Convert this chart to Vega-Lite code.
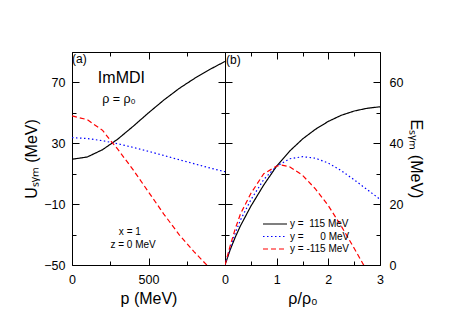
{
  "$schema": "https://vega.github.io/schema/vega-lite/v6.json",
  "padding": {"left": 23, "top": 45, "right": 0, "bottom": 0},
  "bounds": "flush",
  "spacing": 0,
  "config": {
    "font": "Liberation Sans",
    "view": {"stroke": "black", "strokeWidth": 1},
    "axis": {
      "domain": false, "grid": false, "tickColor": "black", "tickWidth": 1,
      "labelColor": "black", "labelFontSize": 12.5, "labelFont": "Liberation Sans",
      "titleFont": "Liberation Sans", "titleFontSize": 16, "titleFontWeight": "normal",
      "titleColor": "black", "labelFlush": false, "labelOverlap": false
    }
  },
  "datasets": {
    "left": [
      {"series": "y =\u00a0\u00a0115 MeV", "p": 0, "U": 19.5},
      {"series": "y =\u00a0\u00a0115 MeV", "p": 100, "U": 21},
      {"series": "y =\u00a0\u00a0115 MeV", "p": 200, "U": 25.8},
      {"series": "y =\u00a0\u00a0115 MeV", "p": 300, "U": 32.8},
      {"series": "y =\u00a0\u00a0115 MeV", "p": 400, "U": 41.2},
      {"series": "y =\u00a0\u00a0115 MeV", "p": 500, "U": 50},
      {"series": "y =\u00a0\u00a0115 MeV", "p": 600, "U": 58.4},
      {"series": "y =\u00a0\u00a0115 MeV", "p": 700, "U": 66},
      {"series": "y =\u00a0\u00a0115 MeV", "p": 800, "U": 72.6},
      {"series": "y =\u00a0\u00a0115 MeV", "p": 900, "U": 78.5},
      {"series": "y =\u00a0\u00a0115 MeV", "p": 1000, "U": 83.8},
      {"series": "y =\u00a0\u00a0\u00a0\u00a0\u00a0\u00a00 MeV", "p": 0, "U": 33.7},
      {"series": "y =\u00a0\u00a0\u00a0\u00a0\u00a0\u00a00 MeV", "p": 100, "U": 33.1},
      {"series": "y =\u00a0\u00a0\u00a0\u00a0\u00a0\u00a00 MeV", "p": 200, "U": 31.7},
      {"series": "y =\u00a0\u00a0\u00a0\u00a0\u00a0\u00a00 MeV", "p": 300, "U": 29.7},
      {"series": "y =\u00a0\u00a0\u00a0\u00a0\u00a0\u00a00 MeV", "p": 400, "U": 27.3},
      {"series": "y =\u00a0\u00a0\u00a0\u00a0\u00a0\u00a00 MeV", "p": 500, "U": 24.7},
      {"series": "y =\u00a0\u00a0\u00a0\u00a0\u00a0\u00a00 MeV", "p": 600, "U": 22},
      {"series": "y =\u00a0\u00a0\u00a0\u00a0\u00a0\u00a00 MeV", "p": 700, "U": 19.2},
      {"series": "y =\u00a0\u00a0\u00a0\u00a0\u00a0\u00a00 MeV", "p": 800, "U": 16.5},
      {"series": "y =\u00a0\u00a0\u00a0\u00a0\u00a0\u00a00 MeV", "p": 900, "U": 13.8},
      {"series": "y =\u00a0\u00a0\u00a0\u00a0\u00a0\u00a00 MeV", "p": 1000, "U": 11.3},
      {"series": "y = -115 MeV", "p": 0, "U": 48},
      {"series": "y = -115 MeV", "p": 100, "U": 45.5},
      {"series": "y = -115 MeV", "p": 200, "U": 38.5},
      {"series": "y = -115 MeV", "p": 250, "U": 32},
      {"series": "y = -115 MeV", "p": 300, "U": 26},
      {"series": "y = -115 MeV", "p": 400, "U": 12.5},
      {"series": "y = -115 MeV", "p": 500, "U": -2},
      {"series": "y = -115 MeV", "p": 600, "U": -16.5},
      {"series": "y = -115 MeV", "p": 700, "U": -30},
      {"series": "y = -115 MeV", "p": 800, "U": -41.5},
      {"series": "y = -115 MeV", "p": 900, "U": -52},
      {"series": "y = -115 MeV", "p": 1000, "U": -62}
    ],
    "right": [
      {"series": "y =\u00a0\u00a0115 MeV", "rho": 0, "E": 0},
      {"series": "y =\u00a0\u00a0115 MeV", "rho": 0.1, "E": 5},
      {"series": "y =\u00a0\u00a0115 MeV", "rho": 0.2, "E": 9.2},
      {"series": "y =\u00a0\u00a0115 MeV", "rho": 0.3, "E": 12.9},
      {"series": "y =\u00a0\u00a0115 MeV", "rho": 0.5, "E": 19.3},
      {"series": "y =\u00a0\u00a0115 MeV", "rho": 0.75, "E": 26.3},
      {"series": "y =\u00a0\u00a0115 MeV", "rho": 1.0, "E": 32.5},
      {"series": "y =\u00a0\u00a0115 MeV", "rho": 1.25, "E": 37.4},
      {"series": "y =\u00a0\u00a0115 MeV", "rho": 1.5, "E": 41.4},
      {"series": "y =\u00a0\u00a0115 MeV", "rho": 1.75, "E": 44.6},
      {"series": "y =\u00a0\u00a0115 MeV", "rho": 2.0, "E": 47.2},
      {"series": "y =\u00a0\u00a0115 MeV", "rho": 2.25, "E": 49.2},
      {"series": "y =\u00a0\u00a0115 MeV", "rho": 2.5, "E": 50.6},
      {"series": "y =\u00a0\u00a0115 MeV", "rho": 2.75, "E": 51.5},
      {"series": "y =\u00a0\u00a0115 MeV", "rho": 3.0, "E": 52},
      {"series": "y =\u00a0\u00a0\u00a0\u00a0\u00a0\u00a00 MeV", "rho": 0, "E": 0},
      {"series": "y =\u00a0\u00a0\u00a0\u00a0\u00a0\u00a00 MeV", "rho": 0.1, "E": 5.6},
      {"series": "y =\u00a0\u00a0\u00a0\u00a0\u00a0\u00a00 MeV", "rho": 0.2, "E": 10.6},
      {"series": "y =\u00a0\u00a0\u00a0\u00a0\u00a0\u00a00 MeV", "rho": 0.3, "E": 14.8},
      {"series": "y =\u00a0\u00a0\u00a0\u00a0\u00a0\u00a00 MeV", "rho": 0.5, "E": 21.4},
      {"series": "y =\u00a0\u00a0\u00a0\u00a0\u00a0\u00a00 MeV", "rho": 0.75, "E": 28.1},
      {"series": "y =\u00a0\u00a0\u00a0\u00a0\u00a0\u00a00 MeV", "rho": 1.0, "E": 32.5},
      {"series": "y =\u00a0\u00a0\u00a0\u00a0\u00a0\u00a00 MeV", "rho": 1.25, "E": 34.9},
      {"series": "y =\u00a0\u00a0\u00a0\u00a0\u00a0\u00a00 MeV", "rho": 1.5, "E": 35.6},
      {"series": "y =\u00a0\u00a0\u00a0\u00a0\u00a0\u00a00 MeV", "rho": 1.75, "E": 35.1},
      {"series": "y =\u00a0\u00a0\u00a0\u00a0\u00a0\u00a00 MeV", "rho": 2.0, "E": 33.5},
      {"series": "y =\u00a0\u00a0\u00a0\u00a0\u00a0\u00a00 MeV", "rho": 2.25, "E": 31},
      {"series": "y =\u00a0\u00a0\u00a0\u00a0\u00a0\u00a00 MeV", "rho": 2.5, "E": 28},
      {"series": "y =\u00a0\u00a0\u00a0\u00a0\u00a0\u00a00 MeV", "rho": 2.75, "E": 24.8},
      {"series": "y =\u00a0\u00a0\u00a0\u00a0\u00a0\u00a00 MeV", "rho": 3.0, "E": 21.6},
      {"series": "y = -115 MeV", "rho": 0, "E": 0},
      {"series": "y = -115 MeV", "rho": 0.1, "E": 6.3},
      {"series": "y = -115 MeV", "rho": 0.2, "E": 12},
      {"series": "y = -115 MeV", "rho": 0.3, "E": 16.8},
      {"series": "y = -115 MeV", "rho": 0.5, "E": 23.5},
      {"series": "y = -115 MeV", "rho": 0.75, "E": 30},
      {"series": "y = -115 MeV", "rho": 1.0, "E": 32.5},
      {"series": "y = -115 MeV", "rho": 1.1, "E": 32.8},
      {"series": "y = -115 MeV", "rho": 1.25, "E": 32.3},
      {"series": "y = -115 MeV", "rho": 1.5, "E": 29.5},
      {"series": "y = -115 MeV", "rho": 1.75, "E": 25},
      {"series": "y = -115 MeV", "rho": 2.0, "E": 19.5},
      {"series": "y = -115 MeV", "rho": 2.25, "E": 12.8},
      {"series": "y = -115 MeV", "rho": 2.5, "E": 5.5},
      {"series": "y = -115 MeV", "rho": 2.75, "E": -2},
      {"series": "y = -115 MeV", "rho": 3.0, "E": -8.5}
    ]
  },
  "hconcat": [
    {
      "width": 153,
      "height": 213,
      "layer": [
        {
          "data": {"name": "left"},
          "mark": {"type": "line", "clip": true, "strokeWidth": 1.2},
          "encoding": {
            "x": {"field": "p", "type": "quantitative",
              "scale": {"domain": [0, 1000], "nice": false, "zero": false},
              "axis": {"orient": "bottom", "values": [0, 250, 500, 750, 1000], "format": "d",
                "labelExpr": "datum.value == 0 || datum.value == 500 ? datum.label : ''",
                "tickSize": {"condition": {"test": "datum.value % 500 == 0", "value": -7}, "value": -4},
                "labelPadding": 15, "title": "p (MeV)", "titlePadding": 2}},
            "y": {"field": "U", "type": "quantitative",
              "scale": {"domain": [-50, 90], "nice": false, "zero": false},
              "axis": {"orient": "left", "values": [-50, -30, -10, 10, 30, 50, 70, 90], "format": "d",
                "labelExpr": "(datum.value + 50) % 40 == 0 ? datum.label : ''",
                "tickSize": {"condition": {"test": "(datum.value + 50) % 40 == 0", "value": -7}, "value": -4},
                "labelPadding": 14, "title": "U\u209b\u1d67\u2098 (MeV)", "titlePadding": 4}},
            "color": {"field": "series", "type": "nominal",
              "scale": {"domain": ["y =\u00a0\u00a0115 MeV", "y =\u00a0\u00a0\u00a0\u00a0\u00a0\u00a00 MeV", "y = -115 MeV"], "range": ["black", "blue", "red"]},
              "legend": null},
            "strokeDash": {"field": "series", "type": "nominal",
              "scale": {"domain": ["y =\u00a0\u00a0115 MeV", "y =\u00a0\u00a0\u00a0\u00a0\u00a0\u00a00 MeV", "y = -115 MeV"], "range": [[1, 0], [1.5, 2.5], [5, 3]]},
              "legend": null}
          }
        },
        {
          "data": {"values": [{}]},
          "mark": {"type": "text", "align": "left", "baseline": "middle", "fontSize": 12, "color": "black"},
          "encoding": {
            "x": {"datum": 0, "type": "quantitative",
              "axis": {"orient": "top", "values": [0, 250, 500, 750, 1000], "labels": false, "title": null,
                "tickSize": {"condition": {"test": "datum.value % 500 == 0", "value": -7}, "value": -4}}},
            "y": {"datum": 85.2, "type": "quantitative",
              "axis": {"orient": "right", "values": [-50, -30, -10, 10, 30, 50, 70, 90], "labels": false, "title": null,
                "tickSize": {"condition": {"test": "(datum.value + 50) % 40 == 0", "value": -7}, "value": -4}}},
            "text": {"value": "(a)"}
          }
        },
        {
          "data": {"values": [{}]},
          "mark": {"type": "text", "align": "center", "baseline": "middle", "fontSize": 16, "color": "black"},
          "encoding": {
            "x": {"datum": 323, "type": "quantitative", "axis": null},
            "y": {"datum": 73, "type": "quantitative", "axis": null},
            "text": {"value": "ImMDI"}
          }
        },
        {
          "data": {"values": [{}]},
          "mark": {"type": "text", "align": "center", "baseline": "middle", "fontSize": 12.5, "color": "black"},
          "encoding": {
            "x": {"datum": 307, "type": "quantitative", "axis": null},
            "y": {"datum": 59, "type": "quantitative", "axis": null},
            "text": {"value": "\u03c1 = \u03c1\u2080"}
          }
        },
        {
          "data": {"values": [{}]},
          "mark": {"type": "text", "align": "center", "baseline": "middle", "fontSize": 10, "color": "black"},
          "encoding": {
            "x": {"datum": 378, "type": "quantitative", "axis": null},
            "y": {"datum": -28.3, "type": "quantitative", "axis": null},
            "text": {"value": "x = 1"}
          }
        },
        {
          "data": {"values": [{}]},
          "mark": {"type": "text", "align": "center", "baseline": "middle", "fontSize": 10, "color": "black"},
          "encoding": {
            "x": {"datum": 399, "type": "quantitative", "axis": null},
            "y": {"datum": -36.8, "type": "quantitative", "axis": null},
            "text": {"value": "z = 0 MeV"}
          }
        }
      ],
      "resolve": {"axis": {"x": "independent", "y": "independent"}}
    },
    {
      "width": 155,
      "height": 213,
      "layer": [
        {
          "data": {"name": "right"},
          "mark": {"type": "line", "clip": true, "strokeWidth": 1.2},
          "encoding": {
            "x": {"field": "rho", "type": "quantitative",
              "scale": {"domain": [0, 3], "nice": false, "zero": false},
              "axis": {"orient": "bottom", "values": [0, 0.5, 1, 1.5, 2, 2.5, 3],
                "labelExpr": "datum.value % 1 == 0 ? format(datum.value, 'd') : ''",
                "tickSize": {"condition": {"test": "datum.value % 1 == 0", "value": -7}, "value": -4},
                "labelPadding": 15, "title": "\u03c1/\u03c1\u2080", "titlePadding": 2}},
            "y": {"field": "E", "type": "quantitative",
              "scale": {"domain": [0, 70], "nice": false, "zero": false},
              "axis": {"orient": "right", "values": [0, 10, 20, 30, 40, 50, 60, 70], "format": "d",
                "labelExpr": "datum.value % 20 == 0 ? datum.label : ''",
                "tickSize": {"condition": {"test": "datum.value % 20 == 0", "value": -7}, "value": -4},
                "labelPadding": 16, "title": "E\u209b\u1d67\u2098 (MeV)", "titlePadding": 5}},
            "color": {"field": "series", "type": "nominal",
              "scale": {"domain": ["y =\u00a0\u00a0115 MeV", "y =\u00a0\u00a0\u00a0\u00a0\u00a0\u00a00 MeV", "y = -115 MeV"], "range": ["black", "blue", "red"]},
              "legend": {"orient": "none", "legendX": 43, "legendY": 165, "title": null,
                "symbolType": "M-2,0H2", "symbolSize": 144, "symbolStrokeWidth": 1.2,
                "labelFontSize": 10, "labelOffset": 8, "rowPadding": 0.5, "padding": 0,
                "labelFont": "Liberation Sans", "labelColor": "black"}},
            "strokeDash": {"field": "series", "type": "nominal",
              "scale": {"domain": ["y =\u00a0\u00a0115 MeV", "y =\u00a0\u00a0\u00a0\u00a0\u00a0\u00a00 MeV", "y = -115 MeV"], "range": [[1, 0], [1.5, 2.5], [5, 3]]},
              "legend": {"orient": "none", "legendX": 43, "legendY": 165, "title": null,
                "symbolType": "M-2,0H2", "symbolSize": 144, "symbolStrokeWidth": 1.2,
                "labelFontSize": 10, "labelOffset": 8, "rowPadding": 0.5, "padding": 0,
                "labelFont": "Liberation Sans", "labelColor": "black"}}
          }
        },
        {
          "data": {"values": [{}]},
          "mark": {"type": "text", "align": "left", "baseline": "middle", "fontSize": 12, "color": "black", "dx": 1},
          "encoding": {
            "x": {"datum": 0, "type": "quantitative",
              "axis": {"orient": "top", "values": [0, 0.5, 1, 1.5, 2, 2.5, 3], "labels": false, "title": null,
                "tickSize": {"condition": {"test": "datum.value % 1 == 0", "value": -7}, "value": -4}}},
            "y": {"datum": 67.3, "type": "quantitative",
              "axis": {"orient": "left", "values": [0, 10, 20, 30, 40, 50, 60, 70], "labels": false, "title": null,
                "tickSize": {"condition": {"test": "datum.value % 20 == 0", "value": -7}, "value": -4}}},
            "text": {"value": "(b)"}
          }
        }
      ],
      "resolve": {"axis": {"x": "independent", "y": "independent"}}
    }
  ],
  "resolve": {
    "scale": {"color": "independent", "strokeDash": "independent"},
    "legend": {"color": "independent", "strokeDash": "independent"}
  }
}
